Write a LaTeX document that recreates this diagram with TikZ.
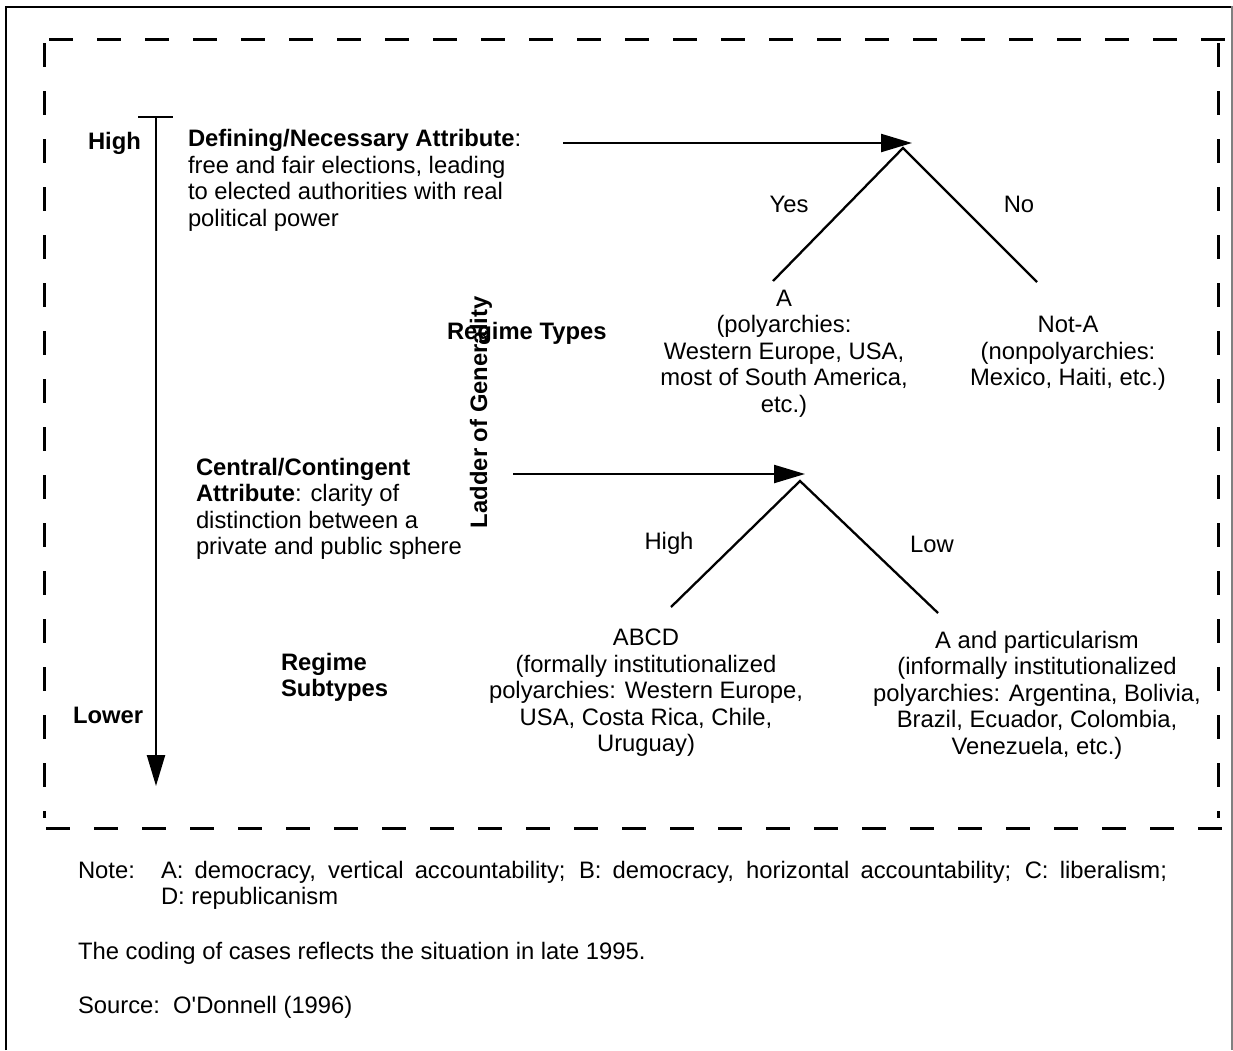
\documentclass[tikz,border=0pt]{standalone}
\usepackage{fontspec}
\setmainfont{Liberation Sans}
\usetikzlibrary{arrows.meta}
\newcommand{\mlines}[2]{\begin{tabular}[t]{@{}#1@{}}#2\end{tabular}}
\begin{document}
\begin{tikzpicture}[x=1pt,y=-1pt,
  txt/.style={inner sep=0pt, outer sep=0pt, font=\fontsize{23.8}{26.5}\selectfont},
  conn/.style={line width=2.3pt, black},
  tip/.style={-{Triangle[length=31pt,width=18pt]}},
  dsh/.style={line width=3pt, dash pattern=on 24pt off 24pt},
  frame/.style={line width=2.5pt, black}]
\useasboundingbox (0,0) rectangle (1233,1050);
% outer frame
\draw[frame] (6,1050) -- (6,7) -- (1231,7);
\draw[gray, line width=1.2pt] (1232,6) -- (1232,1050);
% dashed box
\draw[dsh] (49,39) -- (1225,39);
\draw[dsh] (44,43) -- (44,818);
\draw[dsh] (46,828) -- (1222,828);
\draw[dsh] (1218,43) -- (1218,818);
% ladder arrow
\coordinate (lt) at (156,117);
\coordinate (lb) at (156,786);
\coordinate (tl) at (138,117);
\coordinate (tr) at (173,117);
\draw[conn] (tl) -- (tr);
\draw[conn, tip] (lt) -- (lb);
% texts
\node[txt, anchor=base west] (high) at (88,149) {\textbf{High}};
\node[txt, anchor=base west] (lower) at (73,723) {\textbf{Lower}};
\node[txt, anchor=base west] (def) at (188,146.5) {\mlines{l}{\textbf{Defining/Necessary Attribute}:\\ free and fair elections, leading\\ to elected authorities with real\\ political power}};
\node[txt, anchor=base west] (types) at (447,339) {\textbf{Regime Types}};
\node[txt, anchor=base west, rotate=90] (ladder) at (487,528) {\textbf{Ladder of Generality}};
\node[txt, anchor=base] (yes) at (789,212) {Yes};
\node[txt, anchor=base] (no) at (1019,212) {No};
\node[txt, anchor=base] (a) at (784,306) {\mlines{c}{A\\ (polyarchies:\\ Western Europe, USA,\\ most of South America,\\ etc.)}};
\node[txt, anchor=base] (nota) at (1068,332.5) {\mlines{c}{Not-A\\ (nonpolyarchies:\\ Mexico, Haiti, etc.)}};
\node[txt, anchor=base west] (central) at (196,475) {\mlines{l}{\textbf{Central/Contingent}\\ \textbf{Attribute}: clarity of\\ distinction between a\\ private and public sphere}};
\node[txt, anchor=base] (hi2) at (669,549) {High};
\node[txt, anchor=base] (low) at (932,552) {Low};
\node[txt, anchor=base] (abcd) at (646,645.5) {\mlines{c}{ABCD\\ (formally institutionalized\\ polyarchies: Western Europe,\\ USA, Costa Rica, Chile,\\ Uruguay)}};
\node[txt, anchor=base] (apart) at (1037,648) {\mlines{c}{A and particularism\\ (informally institutionalized\\ polyarchies: Argentina, Bolivia,\\ Brazil, Ecuador, Colombia,\\ Venezuela, etc.)}};
\node[txt, anchor=base west] (subtypes) at (281,670) {\mlines{l}{\textbf{Regime}\\ \textbf{Subtypes}}};
\node[txt, anchor=base west] (note) at (78,878) {Note:};
\node[txt, anchor=base west] (notebody) at (161,878) {\parbox[t]{1006pt}{A: democracy, vertical accountability; B: democracy, horizontal accountability; C: liberalism;\linebreak D: republicanism}};
\node[txt, anchor=base west] (coding) at (78,959) {The coding of cases reflects the situation in late 1995.};
\node[txt, anchor=base west] (source) at (78,1013) {Source:\ \ O\textquotesingle Donnell (1996)};
% first decision
\coordinate (a1s) at (563,143);
\coordinate (a1e) at (912,143);
\draw[conn, tip] (a1s) -- (a1e);
\coordinate (ap1) at (903,148);
\coordinate (l1) at (773,281);
\coordinate (r1) at (1037,282);
\draw[conn] (l1) -- (ap1) -- (r1);
% second decision
\coordinate (a2s) at (513,474);
\coordinate (a2e) at (805,474);
\draw[conn, tip] (a2s) -- (a2e);
\coordinate (ap2) at (800,481);
\coordinate (l2) at (671,607);
\coordinate (r2) at (938,613);
\draw[conn] (l2) -- (ap2) -- (r2);
\end{tikzpicture}
\end{document}
